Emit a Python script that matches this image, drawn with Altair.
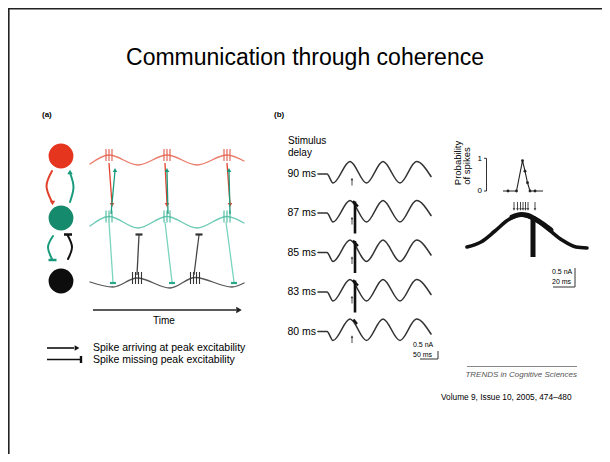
import altair as alt
import pandas as pd

# ------------------------------------------------------------------
# Values (reference pixel units)
# ------------------------------------------------------------------
title_text = "Communication through coherence"

panel_labels = ["(a)", "(b)"]
panel_label_x = [42, 274]
panel_label_y = [115, 115]

# neuron groups (left column of panel a)
cell_x = [61, 61, 61]
cell_y = [156, 218, 281]
cell_color = ["#e6351f", "#168a6c", "#0d0d0d"]

# oscillation turning points, panel (a)
red_osc_x = [90, 109, 138, 167, 197, 227, 244]
red_osc_y = [164, 155, 165, 155, 165, 155, 161]
teal_osc_x = [90, 109, 138, 167, 197, 227, 244]
teal_osc_y = [226, 216.5, 228, 216.5, 228, 216.5, 223]
black_osc_x = [90, 113, 137, 170, 195, 232, 244]
black_osc_y = [282, 287, 278, 288, 277.5, 287, 283]

# spike bursts (x of burst, y of burst, tick offsets)
red_burst_x = [109, 167, 227]
red_burst_y = 155
teal_burst_x = [109, 167, 227]
teal_burst_y = 216.5
black_burst_x = [137, 195]
black_burst_y = 278
tick3 = [-3, 0, 3]
tick4 = [-4.5, -1.5, 1.5, 4.5]

# connections in panel (a)
red_arrow_x1 = [109, 165, 227]
red_arrow_x2 = [112, 167, 230]
teal_arrow_x1 = [111, 168, 230]
teal_arrow_x2 = [115, 167, 229]
teal_long_x1 = [109, 165, 226]
teal_long_x2 = [113, 172, 234]
black_t_x1 = [137, 194]
black_t_x2 = [139, 199]

# curved connectors between the cells
red_arc_x = [52, 46.5, 52]
red_arc_y = [171, 186, 202]
teal_arc_x = [70, 73.5, 70]
teal_arc_y = [202, 187, 173]
teal_arc2_x = [53, 48, 52]
teal_arc2_y = [236, 247, 259]
black_arc_x = [68, 72, 67.5]
black_arc_y = [259, 247, 235]

legend_text = ["Spike arriving at peak excitability", "Spike missing peak excitability"]
legend_y = [348, 359.5]

# panel (b): stimulus delay rows
row_labels = ["90 ms", "87 ms", "85 ms", "83 ms", "80 ms"]
row_center = [172.5, 211.5, 251, 290.5, 330]
row_spike = [False, True, True, True, False]
trace_x = [318, 327, 333, 350, 366.5, 383, 400, 416.5, 431]
trace_dy = [1.5, 1.5, 10.5, -11, 10.5, -11, 10.5, -11, 4]

# panel (b) right: averaged response
resp_x = [467, 481, 495, 508, 521, 534, 548, 562, 576, 587]
resp_y = [247, 242, 231, 220, 215, 219, 229, 240, 247, 248]
band_x = [512, 521, 528, 535, 543, 551]
band_y = [217, 214.5, 215.5, 219, 224, 230]
stim_arrow_x = [514, 517.5, 520.5, 523, 525.5, 528, 535]

# probability of spikes inset
prob_x = [503, 508, 516.5, 522.5, 525, 527.5, 530, 535, 543]
prob_p = [0, 0, 0, 0.92, 0.6, 0.25, 0, 0, 0]
prob_marker = [False, True, True, True, True, True, True, True, False]

# ------------------------------------------------------------------
XS = alt.Scale(domain=[8, 602], nice=False, zero=False)
YS = alt.Scale(domain=[8, 454], nice=False, zero=False, reverse=True)
FONT = "Liberation Sans"


def xq(f="x"):
    return alt.X(f"{f}:Q", scale=XS, axis=None)


def yq(f="y"):
    return alt.Y(f"{f}:Q", scale=YS, axis=None)


def segs(x1, y1, x2, y2, color, width, cap="butt"):
    n = len(x1)
    df = pd.DataFrame({"x": x1, "y": y1 if isinstance(y1, list) else [y1] * n,
                       "x2": x2, "y2": y2 if isinstance(y2, list) else [y2] * n})
    return alt.Chart(df).mark_rule(color=color, strokeWidth=width, strokeCap=cap).encode(
        x=xq(), y=yq(), x2="x2:Q", y2="y2:Q")


def curve(xs, ys, color, width, interp="monotone", groups=None):
    df = pd.DataFrame({"x": xs, "y": ys, "i": list(range(len(xs))),
                       "g": groups if groups is not None else [0] * len(xs)})
    return alt.Chart(df).mark_line(color=color, strokeWidth=width, interpolate=interp,
                                   strokeCap="round", strokeJoin="round").encode(
        x=xq(), y=yq(), order="i:Q", detail="g:N")


def pts(xs, ys, shape, size, color):
    n = len(xs)
    df = pd.DataFrame({"x": xs, "y": ys if isinstance(ys, list) else [ys] * n})
    return alt.Chart(df).mark_point(shape=shape, size=size, filled=True, color=color,
                                    opacity=1, strokeWidth=0).encode(x=xq(), y=yq())


def texts(ts, xs, ys, size, align="left", color="#000", weight="normal", style="normal", angle=0):
    df = pd.DataFrame({"t": ts, "x": xs, "y": ys})
    kw = dict(align=align, baseline="middle", font=FONT, fontSize=size, color=color,
              fontWeight=weight, fontStyle=style)
    if angle:
        kw["angle"] = angle
    return alt.Chart(df).mark_text(**kw).encode(x=xq(), y=yq(), text="t:N")


layers = []

# slide border (top and left)
layers.append(segs([8], [8.8], [602], [8.8], "#222", 1.6))
layers.append(segs([8.8], [8], [8.8], [454], "#222", 1.6))

# title
layers.append(texts([title_text], [305], [57.5], 23, align="center"))

# panel labels
layers.append(texts(panel_labels, panel_label_x, panel_label_y, 8, weight="bold"))

# cells
cdf = pd.DataFrame({"x": cell_x, "y": cell_y, "c": cell_color})
layers.append(alt.Chart(cdf).mark_circle(size=616, opacity=1).encode(
    x=xq(), y=yq(), color=alt.Color("c:N", scale=None)))

# curved connectors
layers.append(curve(red_arc_x, red_arc_y, "#e0402a", 2, interp="cardinal"))
layers.append(pts([52.5], [203], "triangle-down", 30, "#e0402a"))
layers.append(curve(teal_arc_x, teal_arc_y, "#1a9a7c", 2, interp="cardinal"))
layers.append(pts([70], [172], "triangle-up", 30, "#1a9a7c"))
layers.append(curve(teal_arc2_x, teal_arc2_y, "#1a9a7c", 2, interp="cardinal"))
layers.append(segs([48.5], [260], [56.5], [260], "#1a9a7c", 2.5))
layers.append(curve(black_arc_x, black_arc_y, "#111", 2, interp="cardinal"))
layers.append(segs([64], [234.5], [72], [234.5], "#111", 2.5))

# oscillations
layers.append(curve(red_osc_x, red_osc_y, "#eb7a68", 1.3))
layers.append(curve(teal_osc_x, teal_osc_y, "#6ccab5", 1.3))
layers.append(curve(black_osc_x, black_osc_y, "#555", 1.3))


# bursts
def burst(xs, yc, offs, color, half=6):
    x1 = [x + o for x in xs for o in offs]
    return segs(x1, yc - half, x1, yc + half, color, 1.1)


layers.append(burst(red_burst_x, red_burst_y, tick3, "#e25a48"))
layers.append(burst(teal_burst_x, teal_burst_y, tick3, "#44b89c"))
layers.append(burst(black_burst_x, black_burst_y, tick4, "#333"))

# long teal lines to the black oscillation (with bar ends)
layers.append(segs(teal_long_x1, 222, teal_long_x2, 282, "#7ad4c0", 1.3))
layers.append(segs([x - 3 for x in teal_long_x2], 283, [x + 3 for x in teal_long_x2], 283, "#2aa88a", 2.2))
# black lines to teal (with bar ends)
layers.append(segs(black_t_x1, 275, black_t_x2, 235, "#444", 1.3))
layers.append(segs([x - 3.5 for x in black_t_x2], 234.5, [x + 3.5 for x in black_t_x2], 234.5, "#333", 2.2))
# red arrows down, teal arrows up
layers.append(segs(red_arrow_x1, 163, red_arrow_x2, 204, "#e0402a", 1.3))
layers.append(pts(red_arrow_x2, 205, "triangle-down", 20, "#e0402a"))
layers.append(segs(teal_arrow_x1, 214, teal_arrow_x2, 171, "#1a9a7c", 1.3))
layers.append(pts(teal_arrow_x2, 170, "triangle-up", 20, "#1a9a7c"))

# time arrow
layers.append(segs([93], 310, [236], 310, "#222", 1.6))
layers.append(pts([239], 310, "triangle-right", 40, "#222"))
layers.append(texts(["Time"], [164], [321], 10, align="center"))

# legend
layers.append(segs([47, 47], legend_y, [74, 80], legend_y, "#111", 1.6))
layers.append(pts([77], legend_y[0], "triangle-right", 30, "#111"))
layers.append(segs([81], legend_y[1] - 3.5, [81], legend_y[1] + 3.5, "#111", 2.4))
layers.append(texts(legend_text, [93, 93], legend_y, 10.5))

# panel (b) left
layers.append(texts(["Stimulus", "delay"], [288, 288], [140.5, 153], 10))
layers.append(texts(row_labels, [316] * 5, [c + 1.5 for c in row_center], 10.5, align="right"))
wx, wy, wg = [], [], []
for k, c in enumerate(row_center):
    for x, d in zip(trace_x, trace_dy):
        wx.append(x)
        wy.append(c + d)
        wg.append(k)
layers.append(curve(wx, wy, "#333", 1.6, groups=wg))
# stimulus arrows
layers.append(segs([352] * 5, [c + 13 for c in row_center], [352] * 5, [c + 7 for c in row_center], "#333", 0.9))
layers.append(pts([352] * 5, [c + 6.5 for c in row_center], "triangle-up", 7, "#333"))
# evoked spikes
sp = [c for c, s in zip(row_center, row_spike) if s]
layers.append(segs([355] * len(sp), [c - 10 for c in sp], [355] * len(sp), [c + 22 for c in sp], "#111", 2.6))
layers.append(segs([353] * len(sp), [c - 10.5 for c in sp], [358] * len(sp), [c - 5 for c in sp], "#111", 2.2))
layers.append(segs([353.5], [row_center[4] - 10.5], [357], [row_center[4] - 6], "#111", 2.2))
# scale bar left
layers.append(texts(["0.5 nA", "50 ms"], [413, 413], [345, 355], 7))
layers.append(segs([420, 438], [359, 351], [438, 438], [359, 359], "#333", 1))

# panel (b) right
layers.append(curve(resp_x, resp_y, "#111", 3.6))
layers.append(curve(band_x, band_y, "#111", 5))
layers.append(segs([533], 216, [533], 257, "#111", 5))
layers.append(segs(stim_arrow_x, 202, stim_arrow_x, 209, "#333", 0.9))
layers.append(pts(stim_arrow_x, 209.5, "triangle-down", 7, "#333"))

# probability inset
layers.append(texts(["Probability", "of spikes"], [457.5, 467], [163, 166], 9.5, align="center", angle=270))
layers.append(segs([486.5, 484, 484], [158.3, 158.3, 191], [486.5, 486.5, 486.5], [191, 158.3, 191], "#333", 1))
layers.append(texts(["1", "0"], [482, 482], [158.5, 191], 8, align="right"))
pdf = pd.DataFrame({"x": prob_x, "p": prob_p, "m": prob_marker, "i": list(range(len(prob_x)))})
base = alt.Chart(pdf).transform_calculate(y="191 - datum.p * 33")
layers.append(base.mark_line(color="#222", strokeWidth=1.1).encode(x=xq(), y=yq(), order="i:Q"))
layers.append(base.transform_filter("datum.m").mark_point(
    shape="circle", size=8, filled=True, color="#222", opacity=1).encode(x=xq(), y=yq()))

# scale bar right
layers.append(texts(["0.5 nA", "20 ms"], [552, 552], [271.5, 281.5], 7))
layers.append(segs([553, 575], [287, 268], [575, 575], [287, 287], "#333", 1))

# source
layers.append(segs([467], 366.5, [577], 366.5, "#888", 1))
layers.append(texts(["TRENDS in Cognitive Sciences"], [577], [374.5], 8, align="right",
                    color="#555", style="italic"))
layers.append(texts(["Volume 9, Issue 10, 2005, 474\u2013480"], [441], [398], 8.3))

chart = alt.layer(*layers).properties(
    width=594, height=446, background="white", padding=0,
    autosize=alt.AutoSizeParams(type="none"),
).configure_view(strokeWidth=0)

chart.save("out.html", embed_options={"renderer": "svg", "actions": False})
